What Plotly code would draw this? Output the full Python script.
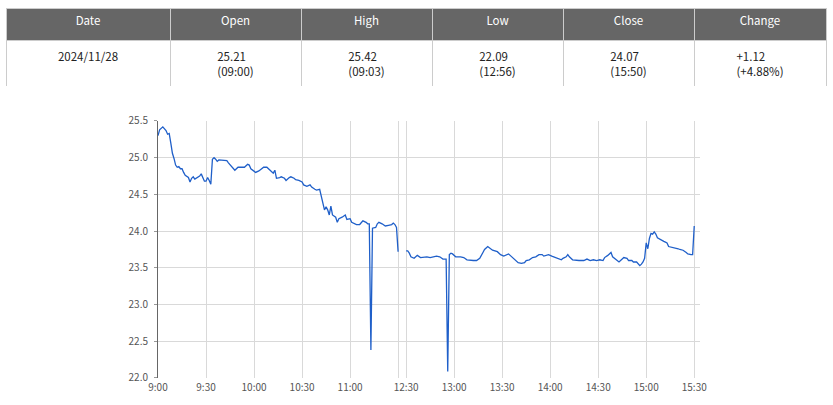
import plotly.graph_objects as go

# ---------------- data ----------------
table_headers = ["Date", "Open", "High", "Low", "Close", "Change"]
table_values = [
    "2024/11/28<br>\u00a0",
    "25.21<br>(09:00)",
    "25.42<br>(09:03)",
    "22.09<br>(12:56)",
    "24.07<br>(15:50)",
    "+1.12<br>(+4.88%)",
]

morning_times = [
    "09:00", "09:01", "09:03", "09:05", "09:06", "09:07", "09:08", "09:09", "09:10", "09:11",
    "09:12", "09:13", "09:14", "09:15", "09:16", "09:17", "09:19", "09:20", "09:21", "09:22",
    "09:23", "09:24", "09:26", "09:27", "09:28", "09:29", "09:30", "09:31", "09:32", "09:33",
    "09:34", "09:35", "09:36", "09:37", "09:38", "09:41", "09:43", "09:44", "09:46", "09:48",
    "09:50", "09:52", "09:54", "09:56", "09:57", "09:58", "10:00", "10:01", "10:03", "10:05",
    "10:06", "10:08", "10:10", "10:11", "10:12", "10:13", "10:14", "10:16", "10:17", "10:19",
    "10:20", "10:22", "10:23", "10:25", "10:26", "10:28", "10:30", "10:31", "10:33", "10:35",
    "10:36", "10:38", "10:39", "10:41", "10:42", "10:43", "10:44", "10:45", "10:46", "10:47",
    "10:48", "10:49", "10:50", "10:51", "10:52", "10:53", "10:55", "10:57", "10:58", "11:00",
    "11:01", "11:04", "11:06", "11:08", "11:10", "11:11", "11:12", "11:13", "11:14", "11:16",
    "11:17", "11:18", "11:20", "11:22", "11:24", "11:26", "11:27", "11:28", "11:29", "11:30",
]
morning_prices = [
    25.30, 25.38, 25.42, 25.37, 25.32, 25.33, 25.20, 25.06, 24.99, 24.90,
    24.87, 24.88, 24.85, 24.85, 24.80, 24.76, 24.73, 24.67, 24.72, 24.74,
    24.71, 24.72, 24.75, 24.78, 24.74, 24.68, 24.68, 24.73, 24.69, 24.64,
    24.98, 25.00, 24.98, 24.95, 24.97, 24.96, 24.96, 24.93, 24.88, 24.83,
    24.87, 24.87, 24.87, 24.91, 24.90, 24.85, 24.82, 24.80, 24.82, 24.85,
    24.87, 24.87, 24.83, 24.82, 24.79, 24.83, 24.72, 24.73, 24.74, 24.72,
    24.69, 24.73, 24.74, 24.72, 24.70, 24.69, 24.67, 24.63, 24.61, 24.63,
    24.60, 24.57, 24.56, 24.57, 24.46, 24.36, 24.29, 24.33, 24.29, 24.22,
    24.34, 24.22, 24.21, 24.19, 24.12, 24.17, 24.19, 24.22, 24.16, 24.17,
    24.12, 24.09, 24.09, 24.14, 24.12, 24.10, 24.10, 22.38, 24.04, 24.05,
    24.10, 24.12, 24.10, 24.07, 24.08, 24.09, 24.11, 24.09, 24.05, 23.72,
]

afternoon_times = [
    "12:30", "12:31", "12:32", "12:33", "12:35", "12:37", "12:39", "12:41", "12:43", "12:45",
    "12:47", "12:49", "12:51", "12:53", "12:55", "12:56", "12:57", "12:58", "12:59", "13:01",
    "13:04", "13:06", "13:08", "13:10", "13:12", "13:14", "13:16", "13:18", "13:19", "13:21",
    "13:22", "13:24", "13:27", "13:29", "13:31", "13:32", "13:34", "13:35", "13:37", "13:39",
    "13:40", "13:42", "13:44", "13:45", "13:47", "13:49", "13:51", "13:53", "13:55", "13:56",
    "13:58", "13:59", "14:01", "14:03", "14:05", "14:07", "14:08", "14:10", "14:11", "14:12",
    "14:14", "14:16", "14:18", "14:21", "14:23", "14:25", "14:27", "14:29", "14:31", "14:33",
    "14:34", "14:36", "14:38", "14:39", "14:41", "14:43", "14:45", "14:46", "14:48", "14:49",
    "14:51", "14:52", "14:54", "14:55", "14:56", "14:57", "14:58", "14:59", "15:00", "15:01",
    "15:02", "15:03", "15:04", "15:05", "15:06", "15:07", "15:09", "15:11", "15:12", "15:13",
    "15:14", "15:17", "15:19", "15:20", "15:21", "15:23", "15:25", "15:26", "15:28", "15:29",
    "15:30",
]
afternoon_prices = [
    23.73, 23.73, 23.70, 23.65, 23.63, 23.67, 23.64, 23.65, 23.65, 23.64,
    23.65, 23.66, 23.65, 23.62, 23.62, 22.09, 23.68, 23.70, 23.69, 23.65,
    23.65, 23.64, 23.61, 23.60, 23.60, 23.60, 23.63, 23.71, 23.75, 23.79,
    23.77, 23.74, 23.72, 23.68, 23.66, 23.67, 23.69, 23.67, 23.63, 23.60,
    23.57, 23.56, 23.57, 23.60, 23.61, 23.64, 23.65, 23.68, 23.68, 23.66,
    23.68, 23.68, 23.66, 23.64, 23.63, 23.61, 23.63, 23.65, 23.68, 23.65,
    23.61, 23.60, 23.60, 23.60, 23.62, 23.60, 23.61, 23.60, 23.61, 23.60,
    23.64, 23.67, 23.71, 23.65, 23.61, 23.58, 23.62, 23.64, 23.63, 23.60,
    23.60, 23.58, 23.58, 23.56, 23.53, 23.55, 23.58, 23.63, 23.84, 23.76,
    23.90, 23.97, 23.96, 23.99, 23.96, 23.91, 23.88, 23.86, 23.85, 23.84,
    23.79, 23.78, 23.77, 23.76, 23.75, 23.74, 23.71, 23.69, 23.68, 23.68,
    24.07,
]

tick_labels = ["9:00", "9:30", "10:00", "10:30", "11:00", "11:30", "12:30",
               "13:00", "13:30", "14:00", "14:30", "15:00", "15:30"]
hidden_tick_labels = ["11:30"]

# ------------- session clock (lunch break compressed) -------------
MORNING_OPEN = 9 * 60
AFTERNOON_OPEN = 12 * 60 + 30
MORNING_LEN = 150
LUNCH_GAP = 5


def session_minutes(t):
    h, m = t.split(":")
    mins = int(h) * 60 + int(m)
    if mins >= AFTERNOON_OPEN:
        return MORNING_LEN + LUNCH_GAP + (mins - AFTERNOON_OPEN)
    return mins - MORNING_OPEN


x_vals = [session_minutes(t) for t in morning_times] + [None] + \
         [session_minutes(t) for t in afternoon_times]
y_vals = morning_prices + [None] + afternoon_prices

tick_vals = [session_minutes(t) for t in tick_labels]
tick_text = ["" if t in hidden_tick_labels else t for t in tick_labels]

FONT = "Noto Sans CJK JP"

fig = go.Figure()

fig.add_trace(go.Table(
    domain=dict(x=[0, 1], y=[0.7865, 1]),
    columnwidth=[164, 131, 131, 131, 131, 132],
    header=dict(
        values=table_headers,
        fill_color="#666666",
        line=dict(color="#cccccc", width=1),
        font=dict(family=FONT, size=11.5, color="#ffffff"),
        align="center",
        height=32,
    ),
    cells=dict(
        values=[[v] for v in table_values],
        fill_color="#ffffff",
        line=dict(color="#cccccc", width=1),
        font=dict(family=FONT, size=11.5, color="#222222"),
        align="center",
        height=47,
    ),
))

fig.add_trace(go.Scatter(
    x=x_vals, y=y_vals, mode="lines",
    line=dict(color="#1f5fc9", width=1.3),
    connectgaps=False, hoverinfo="skip", showlegend=False,
))

fig.update_layout(
    width=833, height=405,
    margin=dict(l=6, r=7, t=8, b=27),
    paper_bgcolor="#ffffff", plot_bgcolor="#ffffff",
    showlegend=False,
    xaxis=dict(
        domain=[0.18537, 0.84634],
        range=[0, 338.6],
        tickmode="array", tickvals=tick_vals, ticktext=tick_text,
        showgrid=True, gridcolor="#d9d9d9", gridwidth=1,
        zeroline=False, showline=False, ticks="",
        ticklabelstandoff=2,
        tickfont=dict(family=FONT, size=10, color="#555555"),
        automargin=False, fixedrange=True,
    ),
    yaxis=dict(
        domain=[0, 0.6946],
        range=[22.0, 25.5], dtick=0.5, tickformat=".1f",
        showgrid=True, gridcolor="#d9d9d9", gridwidth=1,
        zeroline=False, showline=True, linecolor="#666666", linewidth=1,
        ticks="outside", ticklen=3, tickcolor="#999999",
        ticklabelstandoff=4,
        tickfont=dict(family=FONT, size=10, color="#555555"),
        automargin=False, fixedrange=True,
    ),
)

fig.write_html("out.html", config={"displayModeBar": False},
               post_script="document.body.style.margin='0';")
